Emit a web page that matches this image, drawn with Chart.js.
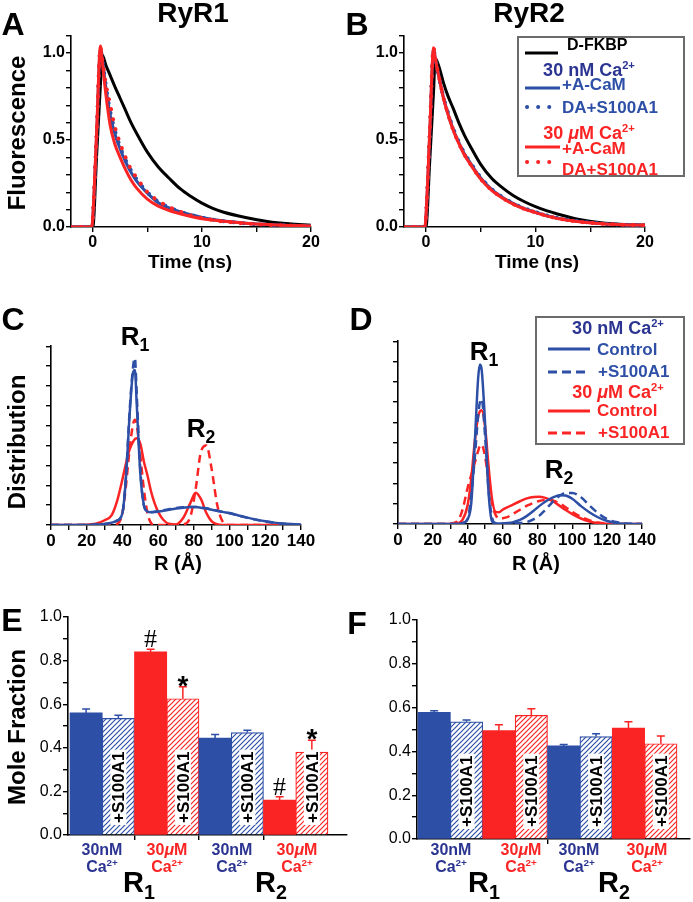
<!DOCTYPE html>
<html>
<head>
<meta charset="utf-8">
<script src="https://cdn.jsdelivr.net/npm/chart.js@4.4.1/dist/chart.umd.min.js"></script>
<style>
  body { margin:0; width:693px; height:902px; position:relative; overflow:hidden; background:#fff;
         font-family:"Liberation Sans", Arial, sans-serif; font-weight:bold; }
  canvas { position:absolute; }
  .t { position:absolute; white-space:nowrap; line-height:1.15; z-index:3; }
  .t sup { font-size:0.62em; line-height:0; vertical-align:0.6em; }
  .t sub { font-size:0.68em; line-height:0; vertical-align:-0.32em; }
  .box { position:absolute; box-sizing:border-box; border:2px solid #6b6b6b; background:#fff; z-index:2; }
  svg.ov { position:absolute; left:0; top:0; z-index:3; }
</style>
</head>
<body>
<canvas id="cA"></canvas>
<canvas id="cB"></canvas>
<canvas id="cC"></canvas>
<canvas id="cD"></canvas>
<canvas id="cE"></canvas>
<canvas id="cF"></canvas>
<script>
// ---- A / B : fluorescence decays on a shared time grid (ns)
const timeNs = [-2, -0.1, 0, 0.35, 0.7, 0.85, 1.2, 1.6, 2, 2.5, 3, 3.5, 4, 5, 6, 7, 8, 9, 10, 11, 12, 14, 16, 18, 20];
const ryr1Donor  = [0, 0, 0, 0.41, 0.82, 0.99, 0.93, 0.87, 0.81, 0.74, 0.67, 0.6, 0.54, 0.43, 0.345, 0.28, 0.22, 0.175, 0.137, 0.107, 0.085, 0.055, 0.032, 0.018, 0.01];
const ryr1NmACaM = [0, 0, 0.05, 0.53, 1.02, 0.97, 0.8, 0.64, 0.54, 0.45, 0.375, 0.315, 0.265, 0.195, 0.14, 0.11, 0.088, 0.07, 0.055, 0.043, 0.034, 0.022, 0.014, 0.009, 0.007];
const ryr1NmDA   = [0, 0, 0.05, 0.53, 1.02, 0.97, 0.81, 0.66, 0.56, 0.46, 0.385, 0.325, 0.275, 0.2, 0.145, 0.112, 0.088, 0.069, 0.054, 0.042, 0.033, 0.021, 0.013, 0.009, 0.007];
const ryr1UmACaM = [0, 0, 0.06, 0.55, 1.04, 0.96, 0.76, 0.58, 0.48, 0.4, 0.33, 0.27, 0.225, 0.16, 0.12, 0.095, 0.076, 0.06, 0.048, 0.04, 0.033, 0.022, 0.014, 0.009, 0.006];
const ryr1UmDA   = [0, 0, 0.05, 0.53, 1.03, 0.97, 0.82, 0.7, 0.58, 0.48, 0.4, 0.33, 0.285, 0.2, 0.15, 0.115, 0.088, 0.066, 0.052, 0.04, 0.031, 0.02, 0.013, 0.009, 0.006];
const ryr2Donor  = [0, 0, 0, 0.38, 0.78, 0.97, 0.92, 0.83, 0.755, 0.68, 0.6, 0.53, 0.47, 0.36, 0.28, 0.225, 0.18, 0.145, 0.117, 0.094, 0.075, 0.043, 0.024, 0.015, 0.011];
const ryr2NmACaM = [0, 0, 0.05, 0.53, 1.02, 0.97, 0.86, 0.745, 0.655, 0.56, 0.487, 0.423, 0.373, 0.282, 0.216, 0.17, 0.134, 0.106, 0.085, 0.066, 0.051, 0.031, 0.02, 0.013, 0.01];
const ryr2NmDA   = [0, 0, 0.05, 0.53, 1.02, 0.97, 0.86, 0.748, 0.66, 0.565, 0.49, 0.426, 0.376, 0.285, 0.218, 0.171, 0.135, 0.107, 0.086, 0.067, 0.052, 0.032, 0.02, 0.013, 0.01];
const ryr2UmACaM = [0, 0, 0.06, 0.55, 1.03, 0.97, 0.86, 0.74, 0.65, 0.555, 0.48, 0.415, 0.366, 0.275, 0.21, 0.165, 0.13, 0.103, 0.083, 0.064, 0.049, 0.03, 0.019, 0.013, 0.01];
const ryr2UmDA   = [0, 0, 0.05, 0.54, 1.03, 0.97, 0.86, 0.745, 0.652, 0.557, 0.482, 0.418, 0.368, 0.277, 0.212, 0.167, 0.131, 0.104, 0.084, 0.065, 0.05, 0.03, 0.019, 0.013, 0.01];
const timeTicks = [0, 5, 10, 15, 20];
const timeLabels = [0, 10, 20];
const fluorTicks = [0, 0.1, 0.2, 0.3, 0.4, 0.5, 0.6, 0.7, 0.8, 0.9, 1.0, 1.1];
const fluorLabels = [0, 0.5, 1.0];

// ---- C / D : distance distributions on a shared R grid (Å)
const rAng = [0, 10, 20, 25, 30, 34, 37, 40, 42, 44, 46, 47, 48, 50, 52, 54, 56, 58, 60, 63, 66, 70, 74, 78, 81, 84, 87, 90, 93, 96, 100, 105, 110, 115, 120, 125, 130, 140];
const ryr1NmCtl  = [0, 0, 0, 0.002, 0.005, 0.012, 0.022, 0.06, 0.24, 0.55, 0.77, 0.78, 0.61, 0.26, 0.1, 0.068, 0.064, 0.065, 0.068, 0.072, 0.077, 0.083, 0.087, 0.09, 0.09, 0.087, 0.083, 0.077, 0.072, 0.066, 0.06, 0.048, 0.037, 0.027, 0.019, 0.012, 0.007, 0.002];
const ryr1NmS100 = [0, 0, 0, 0.002, 0.005, 0.012, 0.022, 0.06, 0.25, 0.57, 0.8, 0.84, 0.66, 0.28, 0.1, 0.07, 0.066, 0.067, 0.07, 0.074, 0.079, 0.085, 0.089, 0.091, 0.091, 0.088, 0.084, 0.078, 0.072, 0.066, 0.059, 0.047, 0.036, 0.026, 0.018, 0.011, 0.006, 0.002];
const ryr1UmCtl  = [0, 0, 0.001, 0.006, 0.024, 0.05, 0.12, 0.23, 0.31, 0.38, 0.42, 0.432, 0.437, 0.41, 0.32, 0.25, 0.17, 0.11, 0.066, 0.025, 0.006, 0.003, 0.035, 0.11, 0.162, 0.13, 0.06, 0.018, 0.004, 0, 0, 0, 0, 0, 0, 0, 0, 0];
const ryr1UmS100 = [0, 0, 0, 0, 0, 0, 0.005, 0.06, 0.2, 0.38, 0.51, 0.53, 0.505, 0.35, 0.18, 0.06, 0.01, 0, 0, 0, 0, 0, 0.003, 0.04, 0.18, 0.37, 0.4, 0.28, 0.105, 0.02, 0, 0, 0, 0, 0, 0, 0, 0];
const ryr2NmCtl  = [0, 0, 0, 0, 0, 0, 0.005, 0.025, 0.1, 0.39, 0.72, 0.785, 0.76, 0.49, 0.15, 0.012, 0.003, 0.003, 0.003, 0.005, 0.009, 0.02, 0.04, 0.066, 0.088, 0.107, 0.123, 0.135, 0.141, 0.14, 0.124, 0.088, 0.057, 0.032, 0.015, 0.005, 0.001, 0];
const ryr2NmS100 = [0, 0, 0, 0, 0, 0, 0.004, 0.025, 0.14, 0.32, 0.535, 0.6, 0.615, 0.43, 0.165, 0.03, 0.004, 0.002, 0.002, 0.002, 0.003, 0.005, 0.01, 0.024, 0.04, 0.065, 0.093, 0.12, 0.14, 0.153, 0.153, 0.132, 0.09, 0.052, 0.024, 0.01, 0.003, 0];
const ryr2UmCtl  = [0, 0, 0, 0, 0, 0.003, 0.02, 0.095, 0.22, 0.4, 0.53, 0.555, 0.56, 0.475, 0.28, 0.12, 0.06, 0.058, 0.07, 0.083, 0.096, 0.112, 0.126, 0.133, 0.134, 0.13, 0.12, 0.106, 0.088, 0.07, 0.049, 0.027, 0.012, 0.004, 0.001, 0, 0, 0];
const ryr2UmS100 = [0, 0, 0, 0, 0.002, 0.012, 0.07, 0.18, 0.24, 0.3, 0.36, 0.385, 0.39, 0.33, 0.21, 0.1, 0.045, 0.027, 0.028, 0.035, 0.05, 0.07, 0.09, 0.105, 0.113, 0.118, 0.119, 0.112, 0.1, 0.084, 0.06, 0.035, 0.018, 0.007, 0.002, 0, 0, 0];
const rTicks = [0, 10, 20, 30, 40, 50, 60, 70, 80, 90, 100, 110, 120, 130, 140];
const rLabels = [0, 20, 40, 60, 80, 100, 120, 140];
const distTicks = [0, 0.1, 0.2, 0.3, 0.4, 0.5, 0.6, 0.7, 0.8, 0.9];

// ---- E / F : mole fractions (R1 pair then R2 pair; 30 nM, +S100A1, 30 µM, +S100A1)
const barKinds = ['nm', 'nmS', 'um', 'umS', 'nm', 'nmS', 'um', 'umS'];
const ryr1Mole = [0.56, 0.535, 0.84, 0.625, 0.445, 0.47, 0.16, 0.38];
const ryr1Err  = [0.018, 0.014, 0.012, 0.055, 0.016, 0.011, 0.016, 0.055];
const ryr1Marks = ['', '', '#', '*', '', '', '#', '*'];
const ryr2Mole = [0.578, 0.535, 0.495, 0.565, 0.425, 0.468, 0.507, 0.435];
const ryr2Err  = [0.008, 0.008, 0.027, 0.03, 0.007, 0.013, 0.028, 0.035];
const ryr2Marks = ['', '', '', '', '', '', '', ''];
const moleTicks = [0, 0.1, 0.2, 0.3, 0.4, 0.5, 0.6, 0.7, 0.8, 0.9, 1.0];
const moleLabels = [0, 0.2, 0.4, 0.6, 0.8, 1.0];

const BLUE = '#2d4fa6', NAVY = '#2b3591', RED = '#fb2424', INK = '#000';
Chart.defaults.font.family = '"Liberation Sans", Arial, sans-serif';
Chart.defaults.animation = false;

const has = (arr, v) => arr.some(t => Math.abs(t - v) < 1e-9);

function place(id, g) {
  const c = document.getElementById(id);
  c.width = g.w; c.height = g.h;
  c.style.left = g.left + 'px'; c.style.top = g.top + 'px';
  return c;
}

function axis(min, max, ticks, labels, fmt, fixed, font) {
  return {
    type: 'linear', min, max, offset: false,
    afterBuildTicks: s => { s.ticks = ticks.map(v => ({ value: v })); },
    ticks: { autoSkip: false, maxRotation: 0, padding: 1, color: INK, font,
             callback: v => has(labels, v) ? fmt(v) : '' },
    grid: { offset: false, drawOnChartArea: false, drawTicks: true, tickLength: 5, color: INK, lineWidth: 1.4 },
    border: { display: true, color: INK, width: 1.6 },
    afterFit: fixed
  };
}

function curve(xs, ys, color, kind, width) {
  return {
    data: xs.map((x, i) => ({ x, y: ys[i] })),
    borderColor: color, borderWidth: width, pointRadius: 0, fill: false,
    cubicInterpolationMode: 'monotone', borderJoinStyle: 'round',
    borderDash: kind === 'dot' ? [0.1, 10] : kind === 'dash' ? [8, 5] : [],
    borderCapStyle: kind === 'dot' ? 'round' : 'butt'
  };
}

function lineChart(id, g, datasets, xAxis, yAxis) {
  return new Chart(place(id, g), {
    type: 'line',
    data: { datasets },
    options: {
      responsive: false, events: [],
      layout: { padding: { top: g.pt, right: g.pr, left: 0, bottom: 0 } },
      plugins: { legend: { display: false }, tooltip: { enabled: false } },
      scales: { x: xAxis, y: yAxis }
    }
  });
}

// panel A / B
const tickFont16 = { size: 16, weight: 'bold' };
function decayPanel(id, g, donor, nmA, nmD, umA, umD) {
  lineChart(id, g, [
    curve(timeNs, umD, RED, 'dot', 4),
    curve(timeNs, umA, RED, 'solid', 3),
    curve(timeNs, nmD, BLUE, 'dot', 4),
    curve(timeNs, nmA, BLUE, 'solid', 3),
    curve(timeNs, donor, INK, 'solid', 3)
  ],
  axis(-2, 20, timeTicks, timeLabels, v => String(v), s => { s.height = g.xh; }, tickFont16),
  axis(0, 1.1, fluorTicks, fluorLabels, v => v.toFixed(1), s => { s.width = g.yw; }, tickFont16));
}
decayPanel('cA', { left: 30, top: 25, w: 300, h: 225, yw: 41, xh: 23, pt: 10, pr: 19 },
  ryr1Donor, ryr1NmACaM, ryr1NmDA, ryr1UmACaM, ryr1UmDA);
decayPanel('cB', { left: 360, top: 25, w: 310, h: 225, yw: 44, xh: 23, pt: 10, pr: 25 },
  ryr2Donor, ryr2NmACaM, ryr2NmDA, ryr2UmACaM, ryr2UmDA);

// panel C / D
const tickFont17 = { size: 17, weight: 'bold' };
function distPanel(id, g, nmC, nmS, umC, umS) {
  lineChart(id, g, [
    curve(rAng, nmS, BLUE, 'dash', 2.5),
    curve(rAng, nmC, BLUE, 'solid', 2.5),
    curve(rAng, umS, RED, 'dash', 2.5),
    curve(rAng, umC, RED, 'solid', 2.5)
  ],
  axis(0, 140, rTicks, rLabels, v => String(v), s => { s.height = g.xh; }, tickFont17),
  axis(0, 0.9, distTicks, [], v => '', s => { s.width = g.yw; }, tickFont17));
}
distPanel('cC', { left: 10, top: 335, w: 310, h: 215, yw: 41, xh: 25, pt: 8, pr: 19 },
  ryr1NmCtl, ryr1NmS100, ryr1UmCtl, ryr1UmS100);
distPanel('cD', { left: 360, top: 330, w: 300, h: 220, yw: 38, xh: 26, pt: 8, pr: 18 },
  ryr2NmCtl, ryr2NmS100, ryr2UmCtl, ryr2UmS100);

// panel E / F
function hatchPattern(color) {
  const c = document.createElement('canvas');
  c.width = 5; c.height = 5;
  const g = c.getContext('2d');
  g.fillStyle = '#fff'; g.fillRect(0, 0, 5, 5);
  g.strokeStyle = color; g.lineWidth = 1.2;
  g.beginPath();
  g.moveTo(-1, 6); g.lineTo(6, -1);
  g.moveTo(-1, 1); g.lineTo(1, -1);
  g.moveTo(4, 6); g.lineTo(6, 4);
  g.stroke();
  return g.createPattern(c, 'repeat');
}
const kindColor = k => k.startsWith('nm') ? BLUE : RED;
const kindFill = k => k.endsWith('S') ? hatchPattern(kindColor(k)) : kindColor(k);

function barExtras(err, marks) {
  return {
    id: 'barExtras',
    afterDatasetsDraw(chart) {
      const g = chart.ctx, ys = chart.scales.y;
      const vals = chart.data.datasets[0].data;
      chart.getDatasetMeta(0).data.forEach((bar, i) => {
        const col = kindColor(barKinds[i]);
        const top = ys.getPixelForValue(vals[i].y);
        const end = ys.getPixelForValue(vals[i].y + err[i]);
        g.save();
        g.strokeStyle = col; g.lineWidth = 1.5;
        g.beginPath();
        g.moveTo(bar.x, top); g.lineTo(bar.x, end);
        g.moveTo(bar.x - 4, end); g.lineTo(bar.x + 4, end);
        g.stroke();
        if (marks[i] === '#') {
          g.fillStyle = INK; g.font = '26px "Liberation Serif", serif';
          g.textAlign = 'center'; g.textBaseline = 'alphabetic';
          g.fillText('#', bar.x, end - 2);
        } else if (marks[i] === '*') {
          g.fillStyle = INK; g.font = 'bold 28px "Liberation Sans", Arial';
          g.textAlign = 'center'; g.textBaseline = 'alphabetic';
          g.fillText('*', bar.x, end + 8);
        }
        if (barKinds[i].endsWith('S')) {
          g.translate(bar.x, ys.bottom - 12);
          g.rotate(-Math.PI / 2);
          g.font = 'bold 17px "Liberation Sans", Arial';
          const w = g.measureText('+S100A1').width;
          g.fillStyle = '#fff'; g.fillRect(-2, -8, w + 4, 16);
          g.fillStyle = INK; g.textAlign = 'left'; g.textBaseline = 'middle';
          g.fillText('+S100A1', 0, 1);
        }
        g.restore();
      });
    }
  };
}

function barPanel(id, g, vals, err, marks, xTicks) {
  new Chart(place(id, g), {
    type: 'bar',
    data: { datasets: [{
      data: vals.map((v, i) => ({ x: i + 0.5, y: v })),
      backgroundColor: barKinds.map(kindFill),
      borderColor: barKinds.map(kindColor),
      borderWidth: barKinds.map(k => k.endsWith('S') ? 1.2 : 0),
      barPercentage: 1, categoryPercentage: 1
    }] },
    options: {
      responsive: false, events: [],
      layout: { padding: { top: g.pt, right: g.pr, left: 0, bottom: 0 } },
      plugins: { legend: { display: false }, tooltip: { enabled: false } },
      scales: {
        x: axis(g.xmin, g.xmax, xTicks, [], v => '', s => { s.height = g.xh; }, { size: 16 }),
        y: axis(0, 1.0, moleTicks, moleLabels, v => v.toFixed(1), s => { s.width = g.yw; }, { size: 16, weight: 'normal' })
      }
    },
    plugins: [barExtras(err, marks)]
  });
}
barPanel('cE', { left: 20, top: 600, w: 340, h: 247, yw: 48, xh: 12, pt: 17, pr: 13, xmin: -0.062, xmax: 8.59 },
  ryr1Mole, ryr1Err, ryr1Marks, [2, 4, 6]);
barPanel('cF', { left: 370, top: 603, w: 323, h: 248, yw: 47, xh: 12, pt: 17, pr: 3, xmin: -0.03, xmax: 8.4 },
  ryr2Mole, ryr2Err, ryr2Marks, [4]);

// ---- text, legends
function txt(html, x, y, size, color, opts = {}) {
  const d = document.createElement('div');
  d.className = 't';
  d.innerHTML = html;
  d.style.left = x + 'px'; d.style.top = y + 'px';
  d.style.fontSize = size + 'px';
  d.style.color = color || INK;
  let tf = opts.left ? 'translate(0,-50%)' : 'translate(-50%,-50%)';
  if (opts.rot) tf += ' rotate(-90deg)';
  d.style.transform = tf;
  if (opts.weight) d.style.fontWeight = opts.weight;
  document.body.appendChild(d);
}
function box(l, t, w, h) {
  const d = document.createElement('div');
  d.className = 'box';
  Object.assign(d.style, { left: l + 'px', top: t + 'px', width: w + 'px', height: h + 'px' });
  document.body.appendChild(d);
}
const svgNS = 'http://www.w3.org/2000/svg';
const ov = document.createElementNS(svgNS, 'svg');
ov.setAttribute('class', 'ov'); ov.setAttribute('width', 693); ov.setAttribute('height', 902);
document.body.appendChild(ov);
function seg(x1, x2, y, color, kind) {
  const l = document.createElementNS(svgNS, 'line');
  l.setAttribute('x1', x1); l.setAttribute('x2', x2);
  l.setAttribute('y1', y); l.setAttribute('y2', y);
  l.setAttribute('stroke', color);
  l.setAttribute('stroke-width', kind === 'dot' ? 4 : 3);
  if (kind === 'dot') { l.setAttribute('stroke-dasharray', '0.1 11'); l.setAttribute('stroke-linecap', 'round'); }
  if (kind === 'dash') l.setAttribute('stroke-dasharray', '9 5');
  ov.appendChild(l);
}

// panel letters and titles
txt('A', 13, 24, 32); txt('B', 357, 24, 32);
txt('C', 13, 319, 32); txt('D', 361, 319, 32);
txt('E', 12, 620, 32); txt('F', 357, 623, 32);
txt('RyR1', 193, 13, 28); txt('RyR2', 529, 13, 28);
txt('Fluorescence', 17, 133, 24, INK, { rot: true });
txt('Distribution', 17, 442, 24, INK, { rot: true });
txt('Mole Fraction', 17, 727, 24, INK, { rot: true });
txt('Time (ns)', 190, 262, 19); txt('Time (ns)', 537, 262, 19);
txt('R (Å)', 178, 563, 20); txt('R (Å)', 536, 563, 20);
txt('R<sub>1</sub>', 135, 337, 26); txt('R<sub>2</sub>', 201, 429, 26);
txt('R<sub>1</sub>', 484, 352, 26); txt('R<sub>2</sub>', 559, 470, 26);

// legend B
box(517, 36, 168, 141);
seg(525, 558, 53, INK, 'solid');  txt('D-FKBP', 567, 45, 16, INK, { left: true });
txt('30 nM Ca<sup>2+</sup>', 589, 70, 18, NAVY);
seg(525, 560, 88, BLUE, 'solid'); txt('+A-CaM', 562, 85, 17, BLUE, { left: true });
seg(527, 557, 107, BLUE, 'dot');  txt('DA+S100A1', 562, 108, 17, BLUE, { left: true });
txt('30 <i>μ</i>M Ca<sup>2+</sup>', 589, 133, 18, RED);
seg(525, 560, 147, RED, 'solid'); txt('+A-CaM', 562, 149, 17, RED, { left: true });
seg(527, 557, 162, RED, 'dot');   txt('DA+S100A1', 562, 170, 17, RED, { left: true });

// legend D
box(535, 316, 150, 129);
txt('30 nM Ca<sup>2+</sup>', 618, 328, 18, NAVY);
seg(548, 590, 349, BLUE, 'solid'); txt('Control', 597, 350, 17, BLUE, { left: true });
seg(548, 590, 372, BLUE, 'dash');  txt('+S100A1', 598, 372, 17, BLUE, { left: true });
txt('30 <i>μ</i>M Ca<sup>2+</sup>', 618, 392, 18, RED);
seg(548, 590, 411, RED, 'solid');  txt('Control', 597, 411, 17, RED, { left: true });
seg(548, 590, 433, RED, 'dash');   txt('+S100A1', 598, 433, 17, RED, { left: true });

// bar-group labels
function groupLabels(centers, r1x, r2x) {
  centers.forEach((cx, i) => {
    const nm = i % 2 === 0;
    txt(nm ? '30nM' : '30<i>μ</i>M', cx, 850, 16, nm ? NAVY : RED);
    txt('Ca<sup>2+</sup>', cx, 867, 16, nm ? NAVY : RED);
  });
  txt('R<sub>1</sub>', r1x, 883, 29);
  txt('R<sub>2</sub>', r2x, 883, 29);
}
groupLabels([102, 167, 232, 297], 139, 271);
groupLabels([451, 521, 579, 647], 484, 614);
</script>
</body>
